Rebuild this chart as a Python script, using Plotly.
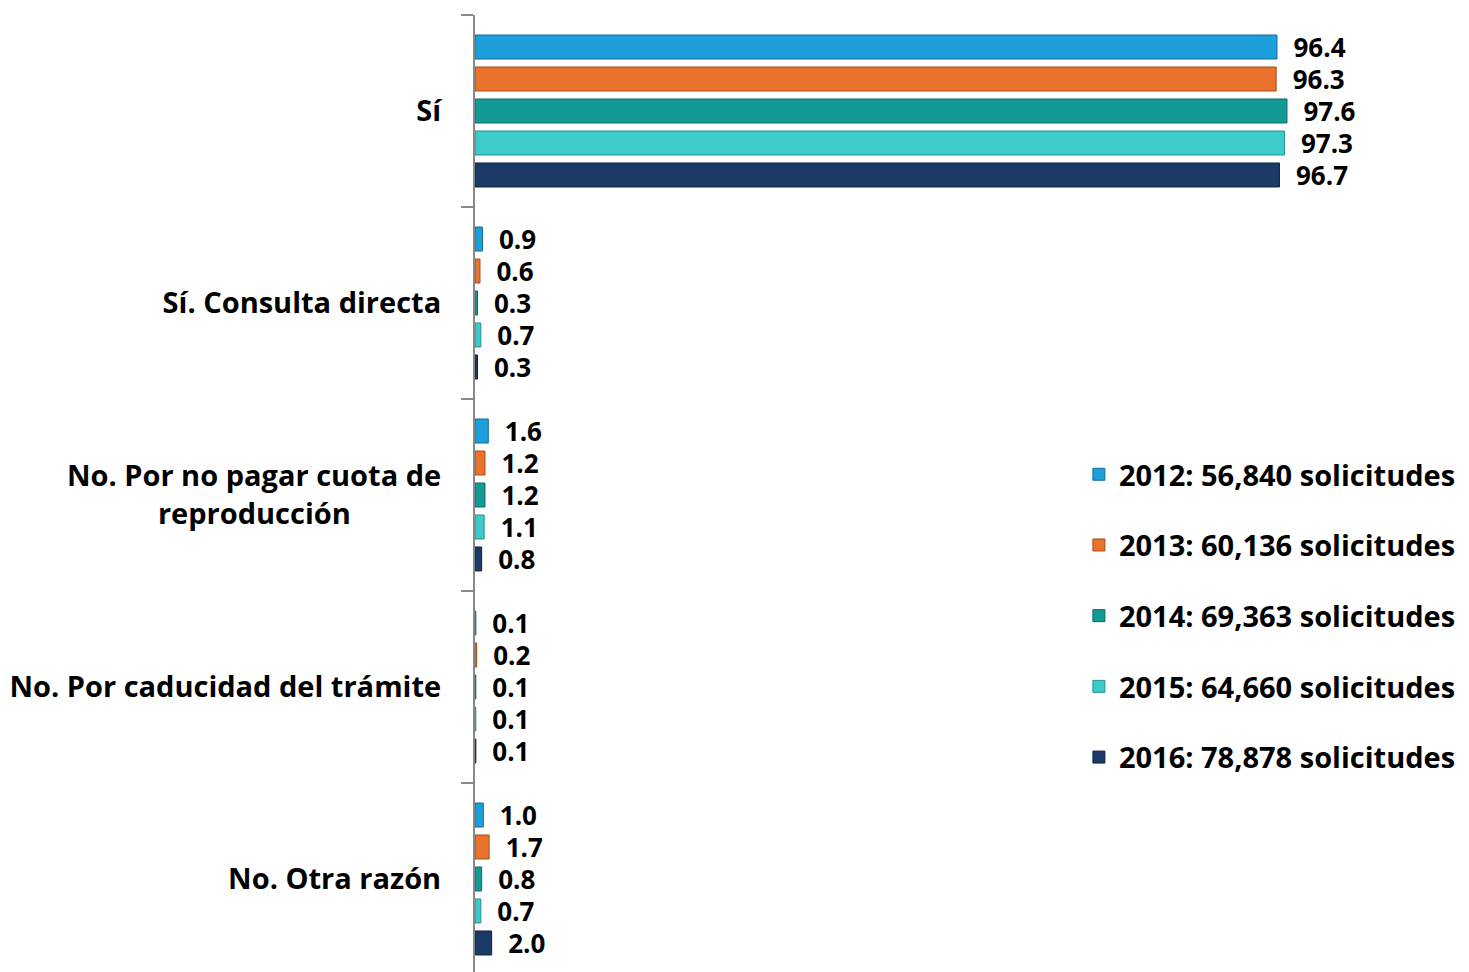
import plotly.graph_objects as go

categories = ["Sí", "Sí. Consulta directa", "No. Por no pagar cuota de reproducción",
              "No. Por caducidad del trámite", "No. Otra razón"]
tick_labels = ["Sí", "Sí. Consulta directa",
               "No. Por no pagar cuota de<br>reproducción" + "\u00a0" * 12,
               "No. Por caducidad del trámite", "No. Otra razón"]
series_names = ["2012: 56,840 solicitudes", "2013: 60,136 solicitudes",
                "2014: 69,363 solicitudes", "2015: 64,660 solicitudes",
                "2016: 78,878 solicitudes"]
v2012 = [96.4, 0.9, 1.6, 0.1, 1.0]
v2013 = [96.3, 0.6, 1.2, 0.2, 1.7]
v2014 = [97.6, 0.3, 1.2, 0.1, 0.8]
v2015 = [97.3, 0.7, 1.1, 0.1, 0.7]
v2016 = [96.7, 0.3, 0.8, 0.1, 2.0]
series_values = [v2012, v2013, v2014, v2015, v2016]
colors = ["#1c9fda", "#e9732c", "#149a94", "#3ccaca", "#1c3a66"]
edge = ["#0f6e9c", "#a84c16", "#0c6a66", "#23928f", "#0f2340"]

FONT = "Open Sans"
fig = go.Figure()
for i, (name, vals) in enumerate(zip(series_names, series_values)):
    fig.add_trace(go.Bar(
        y=categories, x=vals, orientation="h", name=name,
        marker=dict(color=colors[i], line=dict(color=edge[i], width=1)),
        texttemplate="  %{x:.1f}", textposition="outside", cliponaxis=False,
        constraintext="none",
        textfont=dict(family=FONT, size=26, color="black", weight="bold"),
        legendgroup=f"g{i}",
    ))

fig.update_layout(
    width=1469, height=972,
    barmode="group", bargap=0.167, bargroupgap=0.25,
    plot_bgcolor="white", paper_bgcolor="white",
    margin=dict(l=467, r=12, t=7, b=5),
    font=dict(family=FONT, color="black"),
    showlegend=True,
    legend=dict(x=0.610, y=0.548, xanchor="left", yanchor="top",
                traceorder="grouped", tracegroupgap=30,
                font=dict(family=FONT, size=29, color="black", weight="bold"),
                bgcolor="rgba(0,0,0,0)"),
    xaxis=dict(range=[0, 119], visible=False, showgrid=False, zeroline=False),
    yaxis=dict(autorange="reversed", tickmode="array", tickvals=categories,
               ticktext=tick_labels, tickson="boundaries", ticks="outside",
               ticklen=12, tickcolor="#888888", tickwidth=2,
               showline=True, linecolor="#888888", linewidth=2,
               ticklabelstandoff=26, automargin=False,
               tickfont=dict(family=FONT, size=29, color="black", weight="bold"),
               showgrid=False, zeroline=False),
)

fig.write_html("out.html")
